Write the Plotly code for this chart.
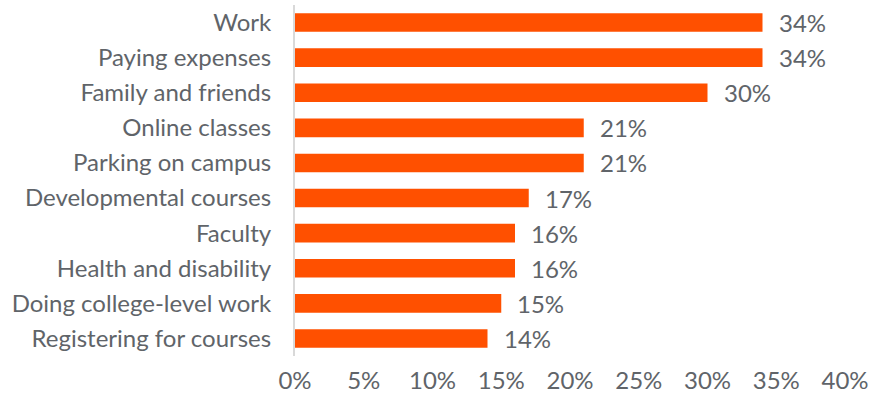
import plotly.graph_objects as go

categories = ["Work", "Paying expenses", "Family and friends", "Online classes",
              "Parking on campus", "Developmental courses", "Faculty",
              "Health and disability", "Doing college-level work", "Registering for courses"]
values = [34, 34, 30, 21, 21, 17, 16, 16, 15, 14]
tick_vals = [0, 5, 10, 15, 20, 25, 30, 35, 40]
tick_text = [f"{v}%" for v in tick_vals]

FONT = "Lato"
GRAY = "#606469"
FS = 24

fig = go.Figure(go.Bar(
    x=values, y=categories, orientation="h",
    marker=dict(color="#FF5000", line=dict(width=0)),
    width=0.53,
))

for c, v in zip(categories, values):
    fig.add_annotation(x=v, y=c, text=f"{v}%", showarrow=False, xanchor="left",
                       xshift=14, font=dict(family=FONT, size=FS, color=GRAY))

fig.update_layout(
    width=871, height=397,
    margin=dict(l=295, r=26, t=5, b=41),
    plot_bgcolor="white", paper_bgcolor="white",
    showlegend=False,
    font=dict(family=FONT, size=FS, color=GRAY),
    xaxis=dict(range=[0, 40], tickvals=tick_vals, ticktext=tick_text,
               showgrid=False, zeroline=False, showline=False, automargin=False,
               ticklabelstandoff=8, tickfont=dict(family=FONT, size=FS, color=GRAY)),
    yaxis=dict(autorange="reversed", showgrid=False, zeroline=False, automargin=False,
               showline=True, linecolor="#d9d9d9", linewidth=2,
               ticks="", ticklabelstandoff=17,
               tickfont=dict(family=FONT, size=FS, color=GRAY)),
)

fig.write_html("out.html")
